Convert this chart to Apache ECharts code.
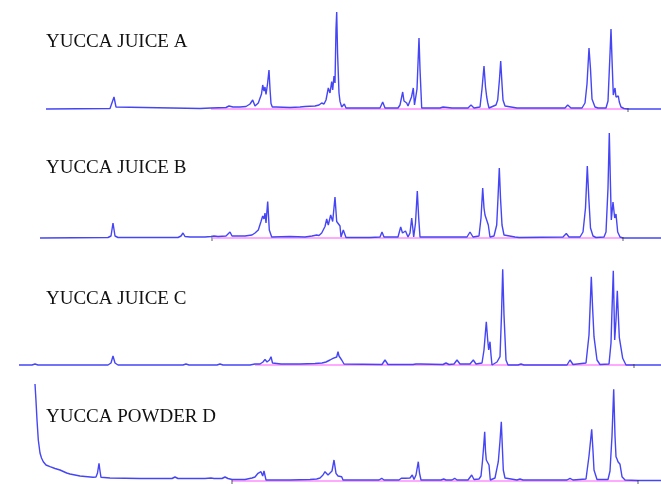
<!DOCTYPE html>
<html>
<head>
<meta charset="utf-8">
<script src="https://cdn.jsdelivr.net/npm/echarts@6/dist/echarts.min.js"></script>
<style>
html,body{margin:0;padding:0;background:#fff;}
#chart{width:661px;height:484px;}
</style>
</head>
<body>
<div id="chart"></div>
<script>
// Sample names (panel labels)
const sampleNames = ["YUCCA JUICE A", "YUCCA JUICE B", "YUCCA JUICE C", "YUCCA POWDER D"];

// Chromatogram traces: [retention position, detector response]
const traceA = [[46,0],[110,0.5],[112,2],[114,12],[116,2],[118,0.5],[200,0.5],[211,1],[226,1.5],[229,3],[231,5],[233,2],[240,2],[246,2.5],[248,3],[250,5],[251.5,4],[252.7,9],[255,3],[258.3,6],[260,7],[261.5,15],[262.7,24],[264,18],[265,22],[266,14.5],[267.5,25],[269,39],[270,20],[271,5.5],[272.3,2],[276,2],[290,1.5],[300,2],[305,2.5],[315,3],[319,4],[321.7,6],[324,5],[326,9],[328.3,21],[330,16],[331.7,27.5],[332.7,19],[334,33],[335,26],[336,80],[336.7,97],[337.6,55],[339,16],[340,7.6],[341.7,2],[344.3,5],[346,1],[360,1],[380,1],[382.7,7],[385,1],[398,1],[400,4],[402.7,17],[404,8],[405.5,6],[406.7,6],[408,3],[410,3],[411.5,12],[413.3,21],[414.5,4],[415.3,2],[417,20],[419,71],[420,40],[421.7,1],[440,1],[443,2],[445,1],[452,1],[454,2],[456,1],[468,1],[471,4],[474,1],[480,2],[482,20],[484,43],[485.5,22],[486.7,12],[487.8,6],[489,1],[496,4],[497.7,9],[499.5,30],[500.7,48],[502,25],[503,9],[505,3],[507,1],[517,1],[519,2],[521,1],[565,1],[567.7,4],[569,2],[571,1],[582,1],[585,6],[587,25],[589,61],[590.5,40],[592,10],[595,2],[598,1],[606,1],[608,8],[610,55],[611,80],[612,50],[613.3,14],[614.2,18],[615,21],[616,12],[617,12],[618.3,13],[619.3,7],[621,2],[624,0.5],[628,0],[661,0]];

const traceB = [[40,0],[108,0.5],[111,2],[113,15],[115,2],[118,0.5],[178,0.5],[181,2],[183,5],[185,1.5],[190,1],[205,1],[211,1.5],[214,2],[216,3],[218,1.5],[226,2],[228,3],[230,6],[232,2],[245,2],[252,3],[255,5],[258.3,8],[260,8],[261,16.5],[262.7,22],[264,19],[265,25],[266,15],[267.7,36.5],[269.3,8],[271.7,1],[290,1.5],[305,1],[312,2],[316.7,3],[319,2.5],[321.7,5],[325,11.5],[326.7,19],[328.3,13],[330.7,23],[332.7,16.5],[335,41],[336.7,16.5],[338.3,18],[340,12],[341,1],[343.3,8],[346,0.5],[370,0.5],[380,1],[382,6],[384,1],[398,1],[400.7,11],[402.5,5],[404,5],[405.5,7],[406.7,6],[408,1],[410,5],[411.7,20],[413,8],[413.7,1],[415.5,15],[417.3,47],[418.7,20],[420,1],[440,1],[442,2],[444,1],[451,1],[453,2],[455,1],[467,1],[470,6],[473,1],[479,2],[481,20],[482.7,50],[484,30],[485,23],[486.7,24],[488.3,13],[490,1],[494,2],[496.7,13],[498,40],[499.3,70],[500.5,40],[502,13],[504,3],[505,1],[515,1],[517,2],[519,0.5],[563,1],[566.3,4.5],[569,1],[580,1],[583,6],[585.5,30],[587.3,72],[588.8,40],[590.5,10],[593,2],[596,0.5],[604,1],[606,6],[608,50],[609.3,105],[610.3,60],[611.3,18],[613,36],[614.7,20],[616,24],[617.7,6],[620,1],[623,0],[661,0]];

const traceC = [[19,0],[32,0],[35,1],[38,0],[108,0],[111,2],[113,9],[115,2],[118,0],[183,0],[186,1],[189,0],[217,0],[220,1],[223,0],[250,0],[255,1],[260,1],[263,3],[265,5.7],[267,3],[268,3],[269.5,5],[271,8.3],[272.5,2],[274,1],[281,1],[283,2],[285,1],[300,1],[315,1.5],[322,2],[326,3],[330,5],[333,6.7],[335,8],[336.7,8],[338,13.3],[339,9],[340,8.3],[341.7,5],[344,1],[346,0],[382,0.5],[385,5],[388,0.5],[413,0.5],[416,1],[418,0.5],[421,1],[423,0.5],[443,0.5],[446,2],[449,0.5],[454,1],[457,5],[460,1],[470,1],[473.3,5],[476,1],[482,2],[484,15],[486.3,43.3],[487.7,25],[488.7,15],[490,23.3],[491,10],[492,0],[497,3],[500,8.3],[501.5,50],[502.7,95.7],[504,50],[506,5],[508,0],[518,0],[521,1],[524,0],[567,0],[570,5],[573,0.5],[586,2],[589,30],[591.3,88.3],[592.7,55],[594,28.3],[597,5],[600,0.5],[609,1],[611,22],[612,55],[613.3,94.3],[614.7,25],[616,45],[617.3,74.3],[618.3,50],[619.3,27.7],[621,26.7],[622.7,6.7],[624,7.7],[626,0],[634,0],[661,0]];

const traceD = [[35,97],[36,80],[37,61],[38.3,41],[40,28],[41.5,23],[43.3,19.3],[46,16],[50,14.3],[55,12.5],[60,11],[66.7,8],[70,7],[75,6],[80,5],[85,4.5],[93,3.7],[96,4],[97.5,8],[99,17.7],[100,10],[101,3.7],[103,3],[110,3],[140,2.5],[172,2.5],[175,4],[178,2.5],[205,2.5],[211,3],[214,2.5],[222,2.5],[225,4],[228,2.5],[232,1.5],[245,1.5],[252,3],[255,4],[258,7.7],[261,9.3],[262.7,5],[264,10],[266,1],[290,1],[310,1.5],[316.7,2],[320,3],[323,6],[325,9.3],[328,6],[330,7.7],[332,10],[334,21],[336,7.7],[338,5],[340,4.3],[341.7,4.3],[343,1],[379,1],[381.7,2.7],[384,1],[399,1],[401.3,2.7],[403,1.5],[405.3,2.7],[407,1],[410,3],[412.3,6],[414,1.5],[416,6],[418.3,19.3],[419.5,8],[421,1],[441,1],[443.7,2],[446,1],[452,1],[454.7,2.7],[457,1],[468,1],[471.7,6],[474,1.5],[479,2],[481,5],[482.5,20],[483.7,35],[484.7,49.3],[485.5,30],[486.3,21],[487.7,21.7],[489,16],[490.3,1],[495,3],[498.3,19.3],[500,40],[501.3,59.3],[502.3,35],[503.3,11],[505,3],[506,1],[517,1],[520,2],[523,1],[567,1],[570,2.7],[573,1],[586,2],[589,25],[591.7,51.7],[593,30],[594,11],[597,1.5],[608,1.5],[610,10],[612,45],[613.7,91.7],[615,45],[616,24.3],[617,22],[618,19.3],[619,20],[620,16.7],[622,4.3],[625,1],[638,0.5],[661,0.5]];

// Integration baselines (start, end)
const baselineA = [[211,0],[628,0]];
const baselineB = [[213,0],[623,0]];
const baselineC = [[255,0],[634,0]];
const baselineD = [[232,0],[638,0]];

// Integration end marks
const marksA = [[628,-1]];
const marksB = [[212,-1],[623,-1]];
const marksC = [[634,-1]];
const marksD = [[232,-1],[638,-1]];

const traces = [traceA, traceB, traceC, traceD];
const baselines = [baselineA, baselineB, baselineC, baselineD];
const marks = [marksA, marksB, marksC, marksD];

const gridBaselines = [109, 238, 365, 481];
const labelCenters = [41.7, 167.2, 298.3, 416.7];
const H = 100;

const grids = [], xAxes = [], yAxes = [], series = [], graphics = [];
for (let i = 0; i < 4; i++) {
  grids.push({left: 0, right: 0, top: gridBaselines[i] - H, height: H, containLabel: false});
  xAxes.push({type: 'value', gridIndex: i, min: 0, max: 661, show: false});
  yAxes.push({type: 'value', gridIndex: i, min: 0, max: 100, show: false});
  series.push({
    type: 'line', xAxisIndex: i, yAxisIndex: i, data: baselines[i],
    showSymbol: false, clip: false, silent: true,
    lineStyle: {color: '#ff8cff', width: 1.6}, z: 1
  });
  series.push({
    type: 'line', xAxisIndex: i, yAxisIndex: i, data: traces[i],
    showSymbol: false, clip: false, silent: true,
    lineStyle: {color: '#4545f5', width: 1.4}, z: 2
  });
  series.push({
    type: 'scatter', xAxisIndex: i, yAxisIndex: i, data: marks[i],
    symbol: 'rect', symbolSize: [1, 4], clip: false, silent: true,
    itemStyle: {color: '#333'}, z: 3
  });
  graphics.push({
    type: 'text', left: 46, top: labelCenters[i] - 9,
    style: {text: sampleNames[i], fill: '#111', font: '19px "Liberation Serif", "Times New Roman", serif'}
  });
}

const chart = echarts.init(document.getElementById('chart'), null, {renderer: 'canvas'});
chart.setOption({
  animation: false,
  backgroundColor: '#fff',
  grid: grids,
  xAxis: xAxes,
  yAxis: yAxes,
  series: series,
  graphic: graphics
});
</script>
</body>
</html>
